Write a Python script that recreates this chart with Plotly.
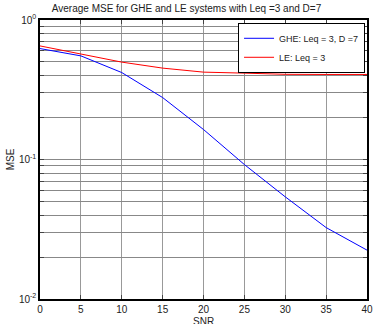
import plotly.graph_objects as go

snr = [0, 5, 10, 15, 20, 25, 30, 35, 40]
ghe_mse = [0.624, 0.553, 0.42, 0.278, 0.164, 0.092, 0.054, 0.0325, 0.0224]
le_mse = [0.652, 0.572, 0.499, 0.452, 0.423, 0.416, 0.408, 0.407, 0.407]

x_ticks = [0, 5, 10, 15, 20, 25, 30, 35, 40]
decades = [0.01, 0.1, 1]
decade_labels = ["10<sup>-2</sup>", "10<sup>-1</sup>", "10<sup>0</sup>"]

yvals, ytext = [], []
for d, lab in zip(decades, decade_labels):
    yvals.append(d)
    ytext.append(lab)
    if d < 1:
        for m in range(2, 10):
            yvals.append(d * m)
            ytext.append("")

fig = go.Figure()
fig.add_trace(go.Scatter(x=snr, y=ghe_mse, mode="lines", name="GHE: Leq = 3, D =7",
                         line=dict(color="#0000ff", width=1)))
fig.add_trace(go.Scatter(x=snr, y=le_mse, mode="lines", name="LE: Leq = 3",
                         line=dict(color="#ff0000", width=1)))

font = "Liberation Sans, Arial, sans-serif"
fig.update_layout(
    width=373, height=324,
    margin=dict(l=40, r=6, t=20, b=25),
    paper_bgcolor="white", plot_bgcolor="white",
    font=dict(family=font, size=10, color="#222"),
    title=dict(text="Average MSE for GHE and LE systems with Leq =3 and D=7",
               x=0.5, xanchor="center", y=0.985, yanchor="top",
               font=dict(size=10, color="#222")),
    legend=dict(x=0.994, y=0.99, xanchor="right", yanchor="top",
                bgcolor="white", bordercolor="black", borderwidth=1,
                font=dict(size=9, color="#222"), tracegroupgap=0,
                itemwidth=30),
    showlegend=True,
    annotations=[dict(text="SNR", xref="paper", yref="paper", x=0.5, y=0,
                      xanchor="center", yanchor="top", yshift=-15,
                      showarrow=False, font=dict(size=10, color="#222"))],
)
fig.update_xaxes(range=[0, 40], tickvals=x_ticks, ticks="inside", ticklen=4,
                 showline=True, linecolor="black", linewidth=1.5, mirror="ticks",
                 showgrid=True, gridcolor="#999", gridwidth=1, zeroline=False,
                 automargin=False)
fig.update_yaxes(type="log", range=[-2, 0], tickvals=yvals, ticktext=ytext,
                 ticks="inside", ticklen=4, automargin=False,
                 showline=True, linecolor="black", linewidth=1.5, mirror="ticks",
                 showgrid=True, gridcolor="#888", gridwidth=1, zeroline=False,
                 title=dict(text="MSE", standoff=2, font=dict(size=10)))

fig.write_html("out.html")
